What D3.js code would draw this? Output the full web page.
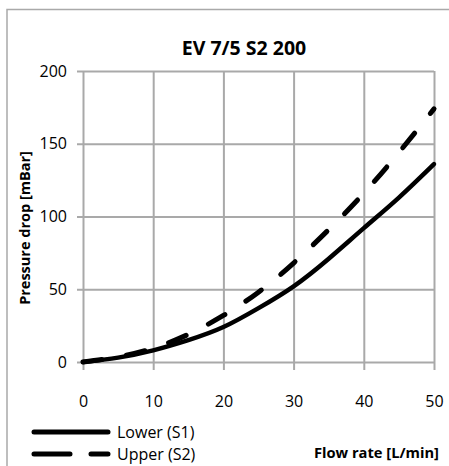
<!DOCTYPE html>
<html>
<head>
<meta charset="utf-8">
<script src="https://cdn.jsdelivr.net/npm/d3@7"></script>
<style>
  body { margin: 0; background: #fff; }
  svg { display: block; font-family: "Open Sans", sans-serif; }
</style>
</head>
<body>
<svg id="chart" width="449" height="466"></svg>
<script>
// Data
var flow = [0, 5, 10, 15, 20, 25, 30, 35, 40, 45, 50];
var lower = [0, 3, 8, 15, 24, 37, 52, 71, 92, 113, 136];
var upper = [0, 3.5, 9.5, 19, 32, 48, 68, 91, 116, 144, 174];
var xTicks = [0, 10, 20, 30, 40, 50];
var yTicks = [0, 50, 100, 150, 200];
var seriesNames = ['Lower (S1)', 'Upper (S2)'];

var svg = d3.select('#chart');
var plot = { left: 83, right: 434, top: 71, bottom: 362 };
var gridColor = '#a9a9a9';

// chart frame
svg.append('path')
    .attr('d', 'M7,466V9.5H449')
    .attr('fill', 'none')
    .attr('stroke', gridColor)
    .attr('stroke-width', 1.5);

var x = d3.scaleLinear().domain([0, 50]).range([plot.left, plot.right]);
var y = d3.scaleLinear().domain([0, 200]).range([plot.bottom, plot.top]);

// grid
svg.append('g')
    .attr('transform', 'translate(0,' + plot.bottom + ')')
    .call(d3.axisBottom(x).tickValues(xTicks).tickSize(-(plot.bottom - plot.top)).tickFormat(''))
    .call(function (g) {
      g.select('.domain').remove();
      g.selectAll('line').attr('stroke', gridColor).attr('stroke-width', 2);
    });

svg.append('g')
    .attr('transform', 'translate(' + plot.left + ',0)')
    .call(d3.axisLeft(y).tickValues(yTicks).tickSize(-(plot.right - plot.left)).tickFormat(''))
    .call(function (g) {
      g.select('.domain').remove();
      g.selectAll('line').attr('stroke', gridColor).attr('stroke-width', 2);
    });

// axes with outer ticks
svg.append('g')
    .attr('transform', 'translate(0,' + plot.bottom + ')')
    .call(d3.axisBottom(x).tickValues(xTicks).tickSize(8).tickPadding(26))
    .call(function (g) {
      g.select('.domain').remove();
      g.selectAll('line').attr('stroke', gridColor).attr('stroke-width', 2);
      g.selectAll('text').attr('fill', '#000').style('font-size', '16px').style('font-family', '"Open Sans", sans-serif');
    });

svg.append('g')
    .attr('transform', 'translate(' + plot.left + ',0)')
    .call(d3.axisLeft(y).tickValues(yTicks).tickSize(6).tickPadding(10))
    .call(function (g) {
      g.select('.domain').remove();
      g.selectAll('line').attr('stroke', gridColor).attr('stroke-width', 2);
      g.selectAll('text').attr('fill', '#000').style('font-size', '16px').style('font-family', '"Open Sans", sans-serif');
    });

// curves
var line = d3.line()
    .x(function (d) { return x(d[0]); })
    .y(function (d) { return y(d[1]); })
    .curve(d3.curveNatural);

svg.append('path')
    .datum(flow.map(function (f, i) { return [f, lower[i]]; }))
    .attr('d', line)
    .attr('fill', 'none')
    .attr('stroke', '#000')
    .attr('stroke-width', 4.5)
    .attr('stroke-linecap', 'round');

svg.append('path')
    .datum(flow.map(function (f, i) { return [f, upper[i]]; }))
    .attr('d', line)
    .attr('fill', 'none')
    .attr('stroke', '#000')
    .attr('stroke-width', 5)
    .attr('stroke-dasharray', '19,25')
    .attr('stroke-linecap', 'round');

// title
svg.append('text')
    .attr('x', 244)
    .attr('y', 55)
    .attr('text-anchor', 'middle')
    .style('font-size', '19.5px')
    .style('font-weight', 'bold')
    .text('EV 7/5 S2 200');

// axis titles
svg.append('text')
    .attr('transform', 'translate(30,228) rotate(-90)')
    .attr('text-anchor', 'middle')
    .style('font-size', '14.5px')
    .style('font-weight', 'bold')
    .text('Pressure drop [mBar]');

svg.append('text')
    .attr('x', 439)
    .attr('y', 458)
    .attr('text-anchor', 'end')
    .style('font-size', '14.7px')
    .style('font-weight', 'bold')
    .text('Flow rate [L/min]');

// legend
var legend = svg.append('g');
seriesNames.forEach(function (name, i) {
  var ly = 432 + i * 22;
  legend.append('line')
      .attr('x1', 34).attr('x2', 108)
      .attr('y1', ly).attr('y2', ly)
      .attr('stroke', '#000')
      .attr('stroke-width', 5)
      .attr('stroke-linecap', 'round')
      .attr('stroke-dasharray', i === 1 ? '36,21' : null);
  legend.append('text')
      .attr('x', 117)
      .attr('y', ly + 5.5)
      .style('font-size', '16px')
      .text(name);
});
</script>
</body>
</html>
